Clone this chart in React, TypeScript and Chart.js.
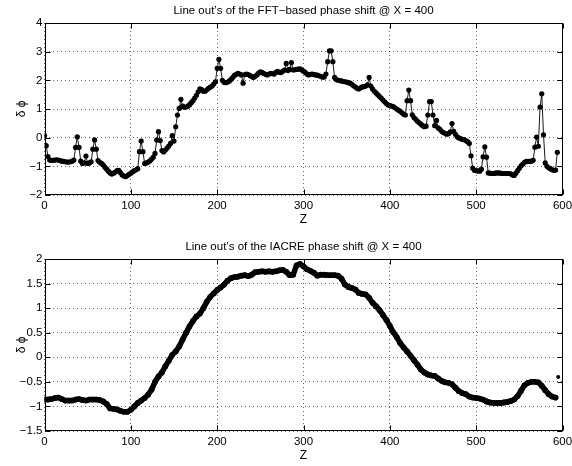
import React, { useEffect, useRef } from "react";
import { Chart, registerables } from "chart.js";

Chart.register(...registerables);

// FFT-based phase line-out, sampled every FFT_STEP along Z
const FFT_STEP = 2;
const fftPhi = [
  0.07, -0.28, -0.66, -0.78, -0.79, -0.79, -0.78, -0.77, -0.78, -0.8,
  -0.82, -0.83, -0.84, -0.85, -0.85, -0.84, -0.82, -0.78, -0.34, 0.03,
  -0.34, -0.82, -0.9, -0.88, -0.64, -0.9, -0.88, -0.84, -0.4, -0.08,
  -0.4, -0.8, -0.86, -0.9, -0.95, -1.03, -1.1, -1.17, -1.23, -1.27,
  -1.24, -1.2, -1.15, -1.14, -1.22, -1.3, -1.34, -1.36, -1.32, -1.28,
  -1.24, -1.19, -1.15, -1.12, -1.08, -0.49, -0.12, -0.49, -0.9, -0.88,
  -0.85, -0.81, -0.75, -0.68, -0.55, -0.08, 0.21, -0.1, -0.45, -0.5,
  -0.43, -0.36, -0.29, -0.2, 0.07, -0.12, 0.38, 0.79, 1.02, 1.34,
  1.1, 1.06, 1.07, 1.1, 1.15, 1.22, 1.29, 1.38, 1.48, 1.6,
  1.7, 1.68, 1.62, 1.62, 1.67, 1.72, 1.76, 1.8, 1.87, 1.95,
  2.42, 2.73, 2.42, 2.0, 1.93, 1.92, 1.94, 1.97, 2.03, 2.1,
  2.17, 2.21, 2.24, 2.22, 2.19, 1.9, 2.2, 2.22, 2.2, 2.17,
  2.13, 2.1, 2.14, 2.19, 2.25, 2.3, 2.28, 2.24, 2.21, 2.19,
  2.22, 2.24, 2.23, 2.22, 2.28, 2.31, 2.28, 2.27, 2.32, 2.36,
  2.59, 2.34, 2.38, 2.62, 2.36, 2.37, 2.38, 2.39, 2.4, 2.36,
  2.32, 2.28, 2.22, 2.19, 2.21, 2.22, 2.2, 2.19, 2.18, 2.16,
  2.14, 2.11, 2.12, 2.22, 2.65, 3.03, 3.03, 2.65, 2.1, 2.03,
  2.0, 1.99, 1.98, 1.96, 1.95, 1.94, 1.92, 1.9, 1.86, 1.81,
  1.77, 1.72, 1.7, 1.74, 1.77, 1.78, 1.8, 1.84, 2.1, 1.8,
  1.7, 1.62, 1.56, 1.5, 1.44, 1.38, 1.31, 1.25, 1.19, 1.14,
  1.12, 1.1, 1.08, 1.04, 1.0, 0.96, 0.92, 0.87, 0.82, 0.79,
  1.29, 1.66, 1.29, 0.8, 0.7, 0.64, 0.57, 0.52, 0.47, 0.42,
  0.38, 0.4, 0.79, 1.26, 1.26, 0.79, 0.42, 0.6, 0.34, 0.29,
  0.22, 0.18, 0.15, 0.12, 0.14, 0.2, 0.49, 0.22, 0.12, 0.03,
  -0.01, -0.03, -0.06, -0.07, -0.1, -0.14, -0.2, -0.63, -1.06, -1.14,
  -1.15, -1.16, -1.17, -1.1, -0.67, -0.32, -0.68, -1.23, -1.24, -1.25,
  -1.25, -1.24, -1.23, -1.23, -1.24, -1.25, -1.25, -1.25, -1.25, -1.25,
  -1.26, -1.3, -1.32, -1.24, -1.15, -1.07, -0.98, -0.92, -0.86, -0.83,
  -0.83, -0.83, -0.82, -0.79, -0.33, 0.02, -0.3, 1.07, 1.53, 0.1,
  -0.88, -1.0, -1.05, -1.08, -1.12, -1.14, -1.13, -0.51,
];

// IACRE phase line-out, sampled every IACRE_STEP along Z
const IACRE_STEP = 4;
const iacrePhi = [
  -0.86, -0.86, -0.85, -0.83, -0.82, -0.85, -0.88, -0.88, -0.88, -0.86,
  -0.85, -0.87, -0.88, -0.86, -0.86, -0.86, -0.87, -0.9, -0.95, -1.04,
  -1.05, -1.06, -1.09, -1.11, -1.11, -1.07, -1.0, -0.93, -0.88, -0.83,
  -0.76, -0.66, -0.5, -0.39, -0.31, -0.18, -0.07, 0.05, 0.12, 0.22,
  0.36, 0.5, 0.63, 0.74, 0.83, 0.89, 1.0, 1.13, 1.23, 1.3,
  1.37, 1.42, 1.48, 1.56, 1.61, 1.63, 1.64, 1.66, 1.67, 1.65,
  1.68, 1.73, 1.74, 1.75, 1.74, 1.75, 1.74, 1.75, 1.77, 1.78,
  1.74, 1.67, 1.68, 1.87, 1.9, 1.85, 1.79, 1.76, 1.72, 1.66,
  1.68, 1.68, 1.67, 1.67, 1.67, 1.66, 1.6, 1.48, 1.43, 1.41,
  1.38, 1.31, 1.29, 1.28, 1.21, 1.11, 1.04, 0.96, 0.86, 0.76,
  0.64, 0.51, 0.41, 0.29, 0.2, 0.12, 0.03, -0.06, -0.15, -0.25,
  -0.31, -0.35, -0.37, -0.38, -0.43, -0.48, -0.51, -0.52, -0.55, -0.62,
  -0.69, -0.73, -0.75, -0.8, -0.82, -0.83, -0.84, -0.86, -0.9, -0.92,
  -0.93, -0.93, -0.93, -0.92, -0.91, -0.89, -0.86, -0.79, -0.68, -0.57,
  -0.52, -0.5, -0.5, -0.51, -0.58, -0.67, -0.75, -0.8, -0.82,
];
// isolated last sample of the IACRE line-out
const iacreEndZ = [595];
const iacreEndPhi = [-0.4];

const FFT_TITLE = "Line out\u2019s of the FFT\u2212based phase shift @ X = 400";
const IACRE_TITLE = "Line out\u2019s of the IACRE phase shift @ X = 400";
const X_LABEL = "Z";
const Y_LABEL = "\u03b4 \u03d5";

const FONT = "'Liberation Sans', Arial, Helvetica, sans-serif";
const W = 572;
const H = 233;

const toMinus = (v: number) => String(Math.round(v * 100) / 100).replace("-", "\u2212");

// closed axes box with inward tick marks on all four sides
const axesBox = {
  id: "axesBox",
  afterDatasetsDraw(chart: any) {
    const { ctx, chartArea: a, scales } = chart;
    const L = Math.round(a.left) + 0.5;
    const R = Math.round(a.right) - 0.5;
    const T = Math.round(a.top) + 0.5;
    const B = Math.round(a.bottom) - 0.5;
    const len = 5;
    ctx.save();
    ctx.strokeStyle = "#000";
    ctx.lineWidth = 1;
    ctx.beginPath();
    scales.x.ticks.forEach((t: any) => {
      const px = Math.round(scales.x.getPixelForValue(t.value)) + 0.5;
      ctx.moveTo(px, B);
      ctx.lineTo(px, B - len);
      ctx.moveTo(px, T);
      ctx.lineTo(px, T + len);
    });
    scales.y.ticks.forEach((t: any) => {
      const py = Math.round(scales.y.getPixelForValue(t.value)) + 0.5;
      ctx.moveTo(L, py);
      ctx.lineTo(L + len, py);
      ctx.moveTo(R, py);
      ctx.lineTo(R - len, py);
    });
    ctx.stroke();
    ctx.strokeRect(L, T, R - L, B - T);
    ctx.restore();
  },
};

function makeConfig(
  title: string,
  datasets: any[],
  yMin: number,
  yMax: number,
  yStep: number
): any {
  return {
    type: "line",
    data: { datasets },
    plugins: [axesBox],
    options: {
      responsive: false,
      animation: false,
      events: [],
      layout: { padding: { left: 0, right: 9.5, top: 0, bottom: 0 } },
      plugins: {
        legend: { display: false },
        tooltip: { enabled: false },
        title: {
          display: true,
          text: title,
          fullSize: false,
          color: "#000",
          font: { family: FONT, size: 11.5, weight: "normal", lineHeight: 1.2 },
          padding: { top: 4, bottom: 5.2 },
        },
      },
      scales: {
        x: {
          type: "linear",
          min: 0,
          max: 600,
          afterFit: (s: any) => {
            s.height = 38;
            s.paddingLeft = 0;
            s.paddingRight = 0;
          },
          ticks: {
            stepSize: 100,
            color: "#000",
            padding: 4,
            maxRotation: 0,
            autoSkip: false,
            font: { family: FONT, size: 11.5 },
          },
          grid: { color: "rgba(0,0,0,0.6)", lineWidth: 1, drawTicks: false },
          border: { display: false, dash: [1, 3] },
          title: {
            display: true,
            text: X_LABEL,
            color: "#000",
            font: { family: FONT, size: 12 },
            padding: { top: 0, bottom: 6.3 },
          },
        },
        y: {
          type: "linear",
          min: yMin,
          max: yMax,
          afterFit: (s: any) => {
            s.width = 44.5;
            s.paddingTop = 0;
            s.paddingBottom = 0;
          },
          ticks: {
            stepSize: yStep,
            color: "#000",
            padding: 2,
            font: { family: FONT, size: 11.5 },
            callback: (v: any) => toMinus(Number(v)),
          },
          grid: { color: "rgba(0,0,0,0.6)", lineWidth: 1, drawTicks: false },
          border: { display: false, dash: [1, 3] },
          title: {
            display: true,
            text: Y_LABEL,
            color: "#000",
            font: { family: FONT, size: 12 },
            padding: { top: 14.8, bottom: 0 },
          },
        },
      },
    },
  };
}

export default function App() {
  const topRef = useRef<HTMLCanvasElement>(null);
  const botRef = useRef<HTMLCanvasElement>(null);

  useEffect(() => {
    const fftPoints = fftPhi.map((v, i) => ({ x: i * FFT_STEP, y: v }));
    const iacrePoints = iacrePhi.map((v, i) => ({ x: i * IACRE_STEP, y: v }));
    const iacreEnd = iacreEndZ.map((z, i) => ({ x: z, y: iacreEndPhi[i] }));

    const top = new Chart(
      topRef.current!,
      makeConfig(
        FFT_TITLE,
        [
          {
            data: fftPoints,
            borderColor: "#000",
            borderWidth: 0.9,
            pointRadius: 2.6,
            pointBackgroundColor: "#000",
            pointBorderWidth: 0,
            tension: 0,
          },
        ],
        -2,
        4,
        1
      )
    );
    const bottom = new Chart(
      botRef.current!,
      makeConfig(
        IACRE_TITLE,
        [
          {
            data: iacrePoints,
            borderColor: "#000",
            borderWidth: 5.5,
            borderJoinStyle: "round",
            borderCapStyle: "round",
            pointRadius: 2.9,
            pointBackgroundColor: "#000",
            pointBorderWidth: 0,
            tension: 0,
          },
          {
            data: iacreEnd,
            showLine: false,
            pointRadius: 2,
            pointBackgroundColor: "#000",
            pointBorderWidth: 0,
          },
        ],
        -1.5,
        2,
        0.5
      )
    );
    return () => {
      top.destroy();
      bottom.destroy();
    };
  }, []);

  return (
    <div style={{ position: "fixed", left: 0, top: 0, width: W, height: 466, background: "#fff" }}>
      <canvas ref={topRef} width={W} height={H} style={{ position: "absolute", left: 0, top: 0 }} />
      <canvas ref={botRef} width={W} height={H} style={{ position: "absolute", left: 0, top: 236 }} />
    </div>
  );
}
